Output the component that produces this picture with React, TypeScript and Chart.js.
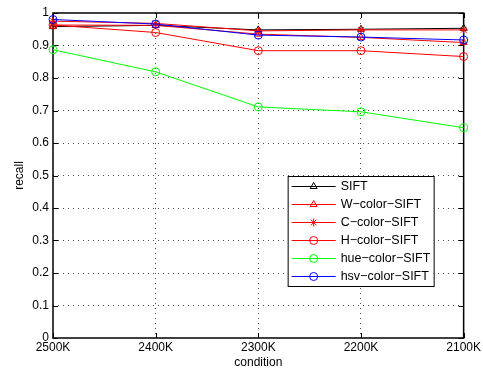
import React, { useEffect, useRef } from "react";
import { Chart, registerables } from "chart.js";

Chart.register(...registerables);

const categories = ["2500K", "2400K", "2300K", "2200K", "2100K"];
const yTickValues = [0, 0.1, 0.2, 0.3, 0.4, 0.5, 0.6, 0.7, 0.8, 0.9, 1];

const seriesNames = [
  "SIFT",
  "W\u2212color\u2212SIFT",
  "C\u2212color\u2212SIFT",
  "H\u2212color\u2212SIFT",
  "hue\u2212color\u2212SIFT",
  "hsv\u2212color\u2212SIFT",
];
const siftValues = [0.958, 0.962, 0.948, 0.95, 0.953];
const wColorValues = [0.963, 0.962, 0.935, 0.925, 0.909];
const cColorValues = [0.975, 0.968, 0.945, 0.948, 0.948];
const hColorValues = [0.963, 0.94, 0.884, 0.884, 0.866];
const hueColorValues = [0.887, 0.819, 0.711, 0.696, 0.647];
const hsvColorValues = [0.98, 0.966, 0.932, 0.926, 0.917];

const seriesColors = ["#000000", "#ff0000", "#ff0000", "#ff0000", "#00ff00", "#0000ff"];
const seriesMarkers = ["triangle", "triangle", "star", "circle", "circle", "circle"];

const FONT = "'Liberation Sans', Arial, Helvetica, sans-serif";

function drawMarker(ctx: CanvasRenderingContext2D, style: string, x: number, y: number, r: number) {
  ctx.beginPath();
  if (style === "circle") {
    ctx.arc(x, y, r, 0, Math.PI * 2);
  } else if (style === "triangle") {
    for (let k = 0; k < 3; k++) {
      const a = -Math.PI / 2 + (k * 2 * Math.PI) / 3;
      const px = x + r * Math.cos(a);
      const py = y + r * Math.sin(a);
      if (k === 0) ctx.moveTo(px, py);
      else ctx.lineTo(px, py);
    }
    ctx.closePath();
  } else if (style === "star") {
    for (let k = 0; k < 4; k++) {
      const a = (k * Math.PI) / 4;
      ctx.moveTo(x + r * Math.cos(a), y + r * Math.sin(a));
      ctx.lineTo(x - r * Math.cos(a), y - r * Math.sin(a));
    }
  }
  ctx.stroke();
}

const framePlugin = {
  id: "matlabFrame",
  beforeDatasetsDraw(chart: any) {
    const { ctx, chartArea, scales } = chart;
    const { left, right, top, bottom } = chartArea;
    const t = 5;
    ctx.save();
    ctx.strokeStyle = "#000";
    ctx.lineWidth = 1;
    ctx.beginPath();
    scales.x.ticks.forEach((_: any, i: number) => {
      const x = Math.round(scales.x.getPixelForTick(i)) + 0.5;
      ctx.moveTo(x, bottom);
      ctx.lineTo(x, bottom - t);
      ctx.moveTo(x, top);
      ctx.lineTo(x, top + t);
    });
    scales.y.ticks.forEach((tk: any) => {
      const y = Math.round(scales.y.getPixelForValue(tk.value)) + 0.5;
      ctx.moveTo(left, y);
      ctx.lineTo(left + t, y);
      ctx.moveTo(right, y);
      ctx.lineTo(right - t, y);
    });
    ctx.stroke();
    ctx.lineWidth = 1.5;
    ctx.strokeRect(left, top, right - left, bottom - top);
    ctx.restore();
  },
  afterDraw(chart: any) {
    const { ctx, chartArea } = chart;
    const bx = chartArea.right - 176;
    const by = chartArea.bottom - 162;
    const bw = 146;
    const bh = 110;
    ctx.save();
    ctx.fillStyle = "#fff";
    ctx.fillRect(bx, by, bw, bh);
    ctx.strokeStyle = "#000";
    ctx.lineWidth = 1;
    ctx.strokeRect(bx + 0.5, by + 0.5, bw, bh);
    ctx.font = `12.5px ${FONT}`;
    ctx.textBaseline = "middle";
    ctx.textAlign = "left";
    seriesNames.forEach((name, i) => {
      const y = by + 10.5 + i * 18;
      ctx.strokeStyle = seriesColors[i];
      ctx.lineWidth = 1;
      ctx.beginPath();
      ctx.moveTo(bx + 4, y);
      ctx.lineTo(bx + 48, y);
      ctx.stroke();
      drawMarker(ctx, seriesMarkers[i], bx + 26, y, 4);
      ctx.fillStyle = "#000";
      ctx.fillText(name, bx + 53, y + 0.5);
    });
    ctx.restore();
  },
};

export default function App() {
  const canvasRef = useRef<HTMLCanvasElement | null>(null);

  useEffect(() => {
    if (!canvasRef.current) return;
    const seriesValues = [siftValues, wColorValues, cColorValues, hColorValues, hueColorValues, hsvColorValues];
    const chart = new Chart(canvasRef.current, {
      type: "line",
      data: {
        labels: categories,
        datasets: seriesValues.map((vals, i) => ({
          label: seriesNames[i],
          data: vals,
          borderColor: seriesColors[i],
          backgroundColor: "rgba(0,0,0,0)",
          borderWidth: 1,
          pointStyle: seriesMarkers[i] as any,
          pointRadius: 4,
          pointBorderWidth: 1,
          pointBorderColor: seriesColors[i],
          pointBackgroundColor: "rgba(0,0,0,0)",
          tension: 0,
          fill: false,
          order: seriesValues.length - 1 - i,
        })),
      },
      options: {
        responsive: false,
        animation: false,
        devicePixelRatio: 1,
        layout: { padding: { left: 0, right: 18, top: 13, bottom: 0 } },
        plugins: {
          legend: { display: false },
          tooltip: { enabled: false },
        },
        scales: {
          x: {
            type: "category",
            offset: false,
            afterFit: (s: any) => {
              s.height = 35;
            },
            grid: {
              display: true,
              offset: false,
              drawTicks: false,
              color: (c: any) =>
                c.index === 0 || c.index === categories.length - 1 ? "rgba(0,0,0,0)" : "rgba(0,0,0,0.7)",
              lineWidth: 1,
            },
            border: { display: false, dash: [1, 4] },
            ticks: {
              color: "#000",
              padding: 2,
              maxRotation: 0,
              autoSkip: false,
              font: { family: FONT, size: 12 },
            },
            title: {
              display: true,
              text: "condition",
              color: "#000",
              font: { family: FONT, size: 12 },
              padding: { top: 0, bottom: 3 },
            },
          },
          y: {
            type: "linear",
            min: 0,
            max: 1,
            afterFit: (s: any) => {
              s.width = 53;
            },
            afterBuildTicks: (s: any) => {
              s.ticks = yTickValues.map((v) => ({ value: v }));
            },
            grid: {
              display: true,
              drawTicks: false,
              color: (c: any) =>
                c.tick && (c.tick.value === 0 || c.tick.value === 1) ? "rgba(0,0,0,0)" : "rgba(0,0,0,0.7)",
              lineWidth: 1,
            },
            border: { display: false, dash: [1, 4] },
            ticks: {
              color: "#000",
              padding: 4,
              font: { family: FONT, size: 12 },
              callback: (v: any) => {
                const n = Number(v);
                if (Math.abs(n) < 1e-9) return "0";
                if (Math.abs(n - 1) < 1e-9) return "1";
                return n.toFixed(1);
              },
            },
            title: {
              display: true,
              text: "recall",
              color: "#000",
              font: { family: FONT, size: 12 },
              padding: { top: 12, bottom: 0 },
            },
          },
        },
      },
      plugins: [framePlugin],
    } as any);
    return () => chart.destroy();
  }, []);

  return (
    <div style={{ position: "absolute", left: 0, top: 0, width: 483, height: 373, background: "#fff" }}>
      <canvas ref={canvasRef} width={483} height={373} style={{ width: 483, height: 373 }} />
    </div>
  );
}
